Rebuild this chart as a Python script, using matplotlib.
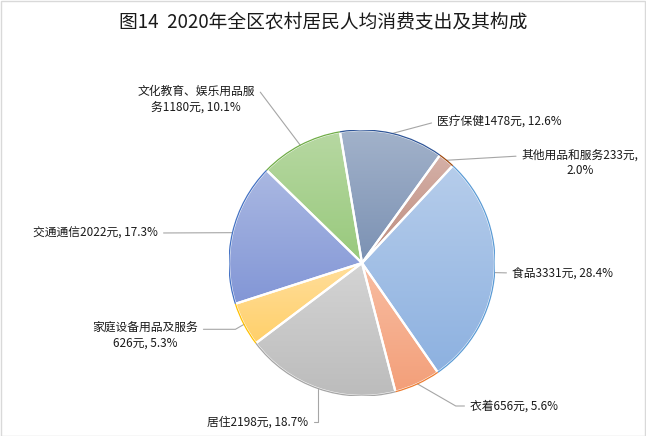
import numpy as np
import matplotlib.pyplot as plt
from matplotlib.patches import Arc, Rectangle
from matplotlib.colors import to_rgb

plt.rcParams['font.family'] = ['Noto Sans CJK SC', 'DejaVu Sans']

# 数据
items = ['食品', '衣着', '居住', '家庭设备用品及服务', '交通通信',
         '文化教育、娱乐用品服务', '医疗保健', '其他用品和服务']
values = [3331, 656, 2198, 626, 2022, 1180, 1478, 233]
label_texts = ['食品3331元, 28.4%', '衣着656元, 5.6%', '居住2198元, 18.7%',
               '家庭设备用品及服务\n626元, 5.3%', '交通通信2022元, 17.3%',
               '文化教育、娱乐用品服\n务1180元, 10.1%', '医疗保健1478元, 12.6%',
               '其他用品和服务233元,\n2.0%']

# 颜色 (渐变上/下, 边框)
top_colors = ['#B6CDEB', '#F8BDA2', '#D4D4D4', '#FFDE9C', '#AAB8E2', '#B7D8A2', '#A2B2CA', '#D5B0A7']
bottom_colors = ['#8DB1E0', '#F39F79', '#BCBCBC', '#FFD06A', '#8296D6', '#98C97C', '#7B91B3', '#BC8B7D']
border_colors = ['#5B9BD5', '#ED7D31', '#A5A5A5', '#FFC000', '#4472C4', '#70AD47', '#2F5597', '#9E480E']

# 标签位置 (像素, 自上而下), 对齐方式, 引导线样式
label_pos = [(512, 273), (470, 406), (308, 422), (145, 335),
             (158, 233), (196, 99), (437, 121), (580, 163)]
label_ha = ['left', 'left', 'right', 'center', 'right', 'center', 'left', 'center']
relpos = [(0, 0.5), (0, 0.5), (1, 0.5), (1, 0.7), (1, 0.5), (1, 0.75), (0, 0.5), (0, 0.75)]
conn = ['arc3', 'angle,angleA=0,angleB=150,rad=0', 'angle,angleA=0,angleB=90,rad=0',
        'angle,angleA=0,angleB=30,rad=0', 'arc3', 'angle,angleA=0,angleB=127,rad=0',
        'angle,angleA=0,angleB=15,rad=0', 'arc3']

W, H = 646, 436
fig = plt.figure(figsize=(W / 100, H / 100), dpi=100)
fig.patch.set_facecolor('white')
fig.patches.append(Rectangle((0.5, 0.5), W - 1.5, H - 1.5, transform=None,
                             fill=False, edgecolor='#D9D9D9', lw=1))

cx, cy, r = 362, 263, 133
ax = fig.add_axes([(cx - r) / W, (H - cy - r) / H, 2 * r / W, 2 * r / H])
wedges, _ = ax.pie(values, startangle=47, counterclock=False, radius=1,
                   wedgeprops=dict(edgecolor='white', linewidth=1.6))
ax.set_xlim(-1, 1)
ax.set_ylim(-1, 1)
ax.set_aspect('equal')
ax.axis('off')

for i, w in enumerate(wedges):
    w.set_facecolor('none')
    w.set_zorder(3)
    ext = w.get_path().get_extents()
    t = np.linspace(0, 1, 256)[:, None, None]
    grad = (1 - t) * np.array(to_rgb(top_colors[i])) + t * np.array(to_rgb(bottom_colors[i]))
    im = ax.imshow(grad, extent=(ext.x0, ext.x1, ext.y0, ext.y1), origin='upper',
                   aspect='auto', zorder=2, interpolation='bilinear')
    im.set_clip_path(w)
    ax.add_patch(Arc((0, 0), 2, 2, theta1=w.theta1, theta2=w.theta2,
                     color=border_colors[i], lw=0.9, zorder=4))

for i, w in enumerate(wedges):
    mid = np.deg2rad((w.theta1 + w.theta2) / 2)
    px, py = label_pos[i]
    ax.annotate(label_texts[i], xy=(np.cos(mid), np.sin(mid)), xycoords='data',
                xytext=(px, H - py), textcoords='figure pixels',
                ha=label_ha[i], va='center', multialignment='center',
                fontsize=8.5, linespacing=1.25, color='#1A1A1A',
                annotation_clip=False,
                arrowprops=dict(arrowstyle='-', color='#A6A6A6', lw=0.8,
                                shrinkA=2, shrinkB=0, relpos=relpos[i],
                                connectionstyle=conn[i]))

fig.text(323 / W, 1 - 22 / H, '图14  2020年全区农村居民人均消费支出及其构成',
         ha='center', va='center', fontsize=13.5, color='#1A1A1A')

fig.savefig('out.png', dpi=100)
